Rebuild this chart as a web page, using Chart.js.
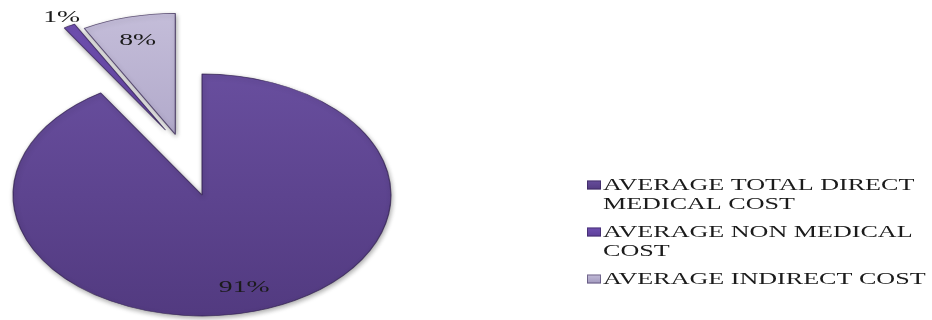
<!DOCTYPE html>
<html>
<head>
<meta charset="utf-8">
<script src="https://cdn.jsdelivr.net/npm/chart.js@4.4.1/dist/chart.umd.min.js"></script>
<style>
  html, body { margin: 0; padding: 0; background: #fff; }
  #wrap { width: 932px; height: 320px; position: relative; }
</style>
</head>
<body>
<div id="wrap"><canvas id="cost-chart"></canvas></div>
<script>
// data
const labels = [
  ['AVERAGE TOTAL DIRECT', 'MEDICAL COST'],
  ['AVERAGE NON MEDICAL', 'COST'],
  ['AVERAGE INDIRECT COST']
];
const values = [91, 1, 8];

// styling
const colorsTop = ['#684e9e', '#7050b2', '#c4bdd9'];
const colorsBottom = ['#523a80', '#5c3e98', '#a097bd'];
const pie = { cx: 202, cy: 195, rx: 189, ry: 121 };  // the flattened (tilted) pie
const explode = [0, 0.57, 0.52];                      // pulled-out slices, fraction of radius
const stretch = 1.63;                                 // text in the picture is wide
const serif = '"Liberation Serif", "Times New Roman", serif';

function sliceShift(meta, i) {
  if (!explode[i]) return { x: 0, y: 0 };
  let gs = Infinity, ge = -Infinity;
  meta.data.forEach(function(a, j) {
    if (explode[j]) { gs = Math.min(gs, a.startAngle); ge = Math.max(ge, a.endAngle); }
  });
  const arc = meta.data[i];
  const own = (arc.startAngle + arc.endAngle) / 2;
  // pulled out mostly as a group, a little along the own direction
  const ang = 0.25 * own + 0.75 * (gs + ge) / 2;
  return { x: Math.cos(ang) * explode[i] * pie.rx, y: Math.sin(ang) * explode[i] * pie.ry };
}

function wideText(ctx, text, x, y, align) {
  ctx.save();
  ctx.translate(x, y);
  ctx.scale(stretch, 1);
  ctx.textAlign = align || 'left';
  ctx.fillText(text, 0, 0);
  ctx.restore();
}

const tiltedPie = {
  id: 'tiltedPie',
  beforeDatasetsDraw(chart) {
    const ctx = chart.ctx;
    const meta = chart.getDatasetMeta(0);
    meta.data.forEach(function(arc, i) {
      const s = sliceShift(meta, i);
      ctx.save();
      ctx.translate(pie.cx + s.x, pie.cy + s.y);
      ctx.scale(pie.rx / arc.outerRadius, pie.ry / arc.outerRadius);
      ctx.translate(-arc.x, -arc.y);
      ctx.shadowColor = 'rgba(0,0,0,0.35)';
      ctx.shadowBlur = 5;
      ctx.shadowOffsetX = 1;
      ctx.shadowOffsetY = 2;
      arc.draw(ctx);
      ctx.restore();
    });
    return false;
  },
  afterDraw(chart) {
    const ctx = chart.ctx;
    const meta = chart.getDatasetMeta(0);
    const total = values.reduce(function(a, b) { return a + b; }, 0);

    // percentage labels
    ctx.fillStyle = '#1b1b1b';
    ctx.font = '17px ' + serif;
    ctx.textBaseline = 'middle';
    meta.data.forEach(function(arc, i) {
      const s = sliceShift(meta, i);
      const mid = (arc.startAngle + arc.endAngle) / 2;
      const f = values[i] / total < 0.03 ? 1.08 : 0.8;
      const x = pie.cx + s.x + Math.cos(mid) * f * pie.rx;
      const y = pie.cy + s.y + Math.sin(mid) * f * pie.ry;
      wideText(ctx, Math.round(values[i] / total * 100) + '%', x, y, 'center');
    });

    // legend
    ctx.font = '16px ' + serif;
    let y = 185;
    labels.forEach(function(lines, i) {
      const g = ctx.createLinearGradient(0, y - 5, 0, y + 5);
      g.addColorStop(0, colorsTop[i]);
      g.addColorStop(1, colorsBottom[i]);
      ctx.fillStyle = g;
      ctx.fillRect(587, y - 4.5, 14, 9);
      ctx.strokeStyle = 'rgba(40,25,70,0.5)';
      ctx.lineWidth = 1;
      ctx.strokeRect(587.5, y - 4, 13, 8);
      ctx.fillStyle = '#1b1b1b';
      lines.forEach(function(line, k) {
        wideText(ctx, line, 603, y + k * 19 + 1);
      });
      y += lines.length * 19 + 9;
    });
  }
};

const costChart = new Chart(document.getElementById('cost-chart'), {
  type: 'pie',
  data: {
    labels: labels,
    datasets: [{
      data: values,
      backgroundColor: function(c) {
        const area = c.chart.chartArea;
        const i = c.dataIndex;
        if (!area) return colorsTop[i];
        const g = c.chart.ctx.createLinearGradient(0, area.top, 0, area.bottom);
        g.addColorStop(0, colorsTop[i]);
        g.addColorStop(1, colorsBottom[i]);
        return g;
      },
      borderColor: 'rgba(45,28,75,0.7)',
      borderWidth: 1,
      offset: 0,
      clip: false
    }]
  },
  options: {
    responsive: true,
    maintainAspectRatio: false,
    animation: false,
    events: [],
    layout: { padding: 4 },
    plugins: {
      legend: { display: false },
      tooltip: { enabled: false }
    }
  },
  plugins: [tiltedPie]
});
</script>
</body>
</html>
